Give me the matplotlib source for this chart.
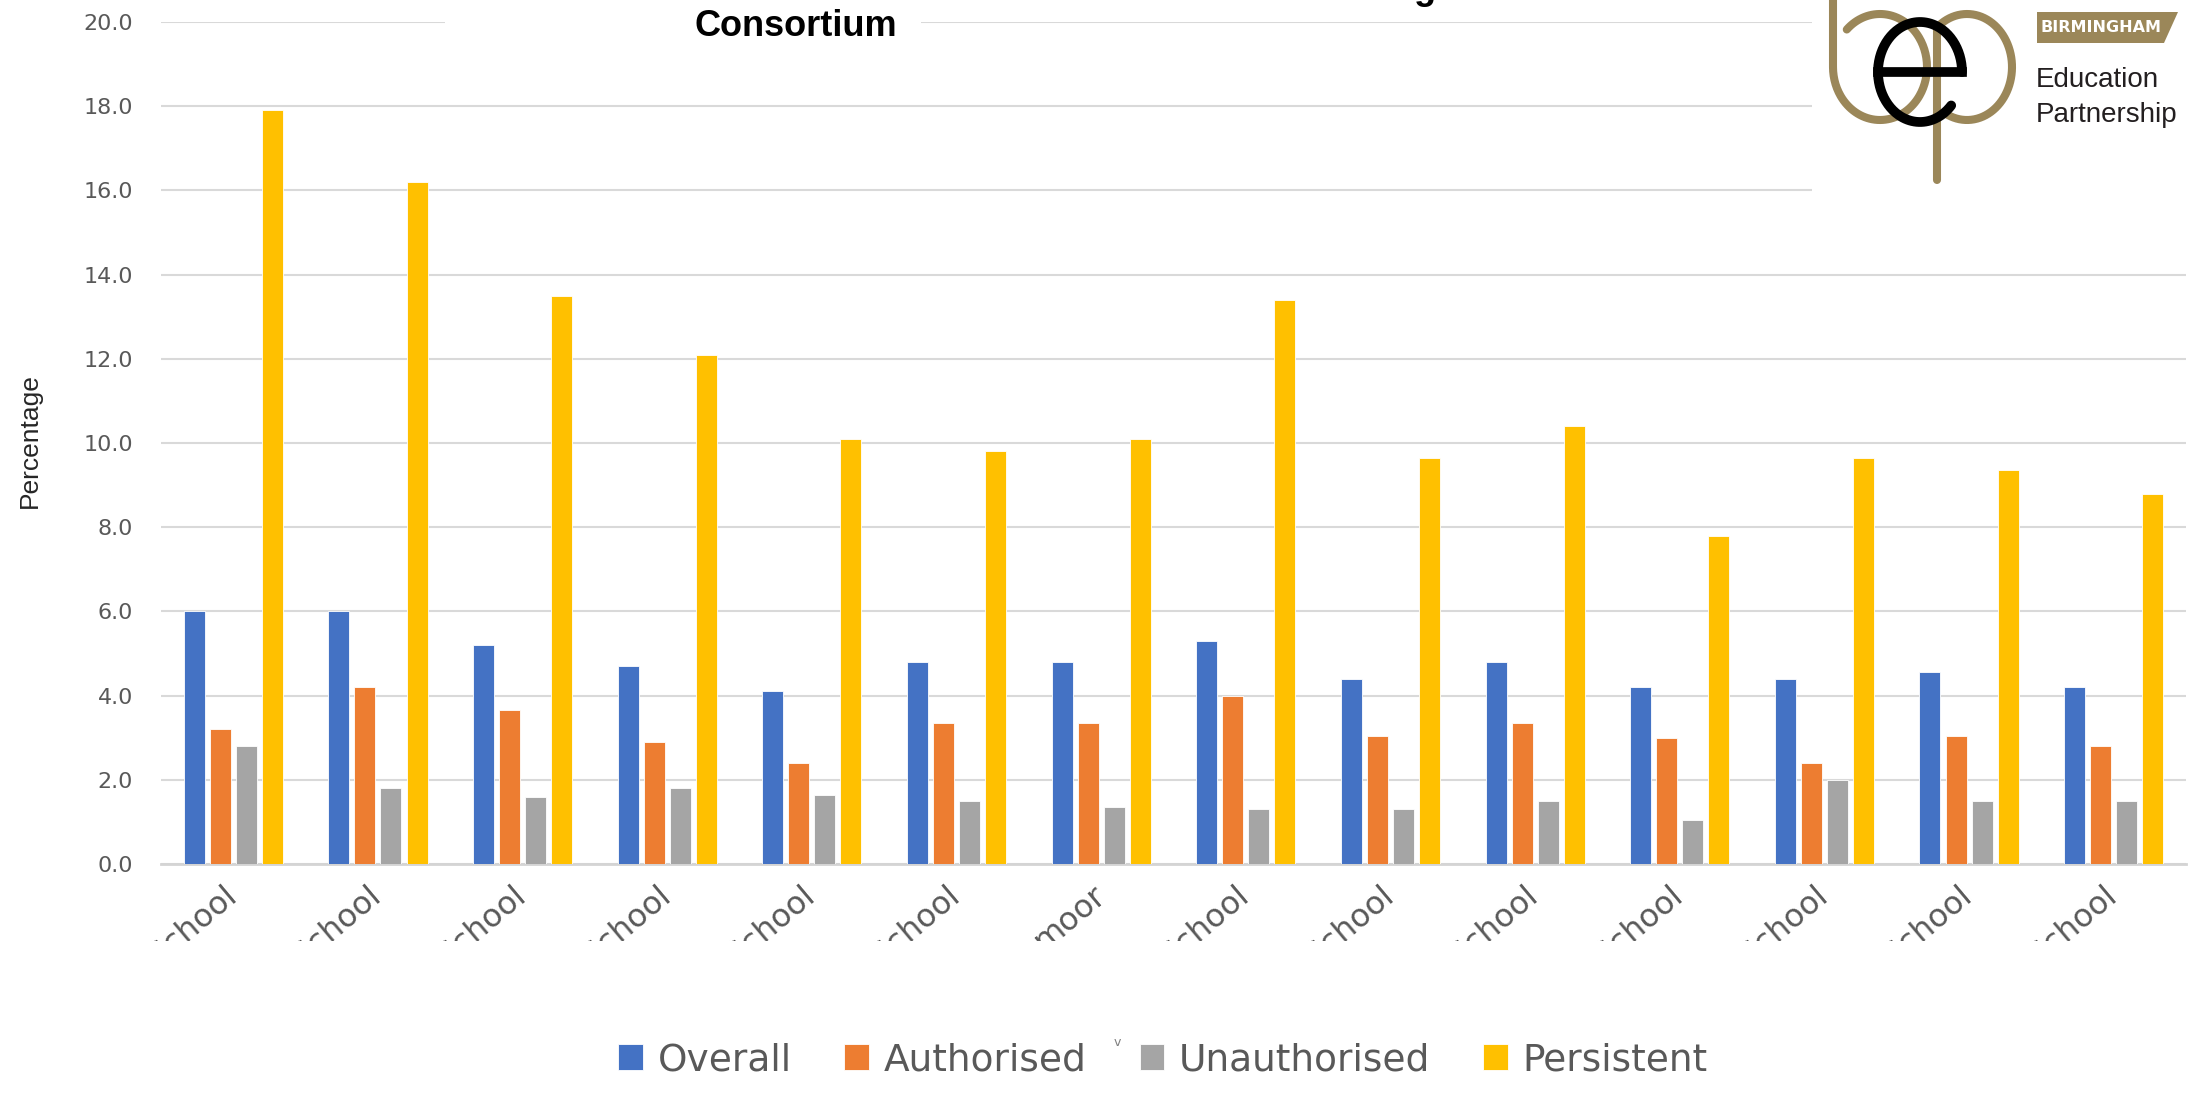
import numpy as np
import matplotlib
matplotlib.use("Agg")
import matplotlib.pyplot as plt
from matplotlib.patches import Rectangle, Polygon
from matplotlib.transforms import Bbox

# ---- data -------------------------------------------------------------
schools = ["School", "School", "School", "School", "School", "School", "moor",
           "School", "School", "School", "School", "School", "School", "School"]
overall = [6.0, 6.0, 5.2, 4.7, 4.1, 4.8, 4.8, 5.3, 4.4, 4.8, 4.2, 4.4, 4.55, 4.2]
authorised = [3.2, 4.2, 3.65, 2.9, 2.4, 3.35, 3.35, 4.0, 3.05, 3.35, 3.0, 2.4, 3.05, 2.8]
unauthorised = [2.8, 1.8, 1.6, 1.8, 1.65, 1.5, 1.35, 1.3, 1.3, 1.5, 1.05, 2.0, 1.5, 1.5]
persistent = [17.9, 16.2, 13.5, 12.1, 10.1, 9.8, 10.1, 13.4, 9.65, 10.4, 7.8, 9.65, 9.35, 8.8]

series_names = ["Overall", "Authorised", "Unauthorised", "Persistent"]
series_values = [overall, authorised, unauthorised, persistent]
series_colors = ["#4472c4", "#ed7d31", "#a5a5a5", "#ffc000"]
y_ticks = [0, 2, 4, 6, 8, 10, 12, 14, 16, 18, 20]

W, H = 2188, 1093
fig = plt.figure(figsize=(W / 100, H / 100), dpi=100)
fig.patch.set_facecolor("white")

ax = fig.add_axes([161 / W, 229 / H, (2186 - 161) / W, (864 - 22) / H])
x = np.arange(len(schools))
step, width = 0.18, 0.145
handles = []
for i, (vals, col) in enumerate(zip(series_values, series_colors)):
    b = ax.bar(x + (i - 1.5) * step, vals, width, color=col,
               edgecolor="white", linewidth=0.6, zorder=3)
    handles.append(b)

ax.set_xlim(-0.5, len(schools) - 0.5)
ax.set_ylim(0, 20)
ax.set_yticks(y_ticks)
ax.set_yticklabels([f"{v:.1f}" for v in y_ticks])
ax.yaxis.grid(True, color="#d9d9d9", linewidth=1.5, zorder=0)
ax.set_axisbelow(True)
for s in ["top", "right", "left"]:
    ax.spines[s].set_visible(False)
ax.spines["bottom"].set_color("#d4d4d4")
ax.spines["bottom"].set_linewidth(2)
ax.tick_params(axis="y", length=0, pad=20, labelsize=16, labelcolor="#595959")
ax.tick_params(axis="x", length=0, pad=20, labelsize=23, labelcolor="#595959")
ax.set_xticks(x)
ax.set_xticklabels(schools, rotation=40, ha="right", va="center",
                   rotation_mode="anchor")
# category labels are cut off along a horizontal line below the axis
clip = Bbox.from_extents(0, H - 941, W, H)
for lbl in ax.get_xticklabels():
    lbl.set_clip_box(clip)
    lbl.set_clip_on(True)

fig.text(30 / W, 1 - 441 / H, "Percentage", rotation=90, ha="center",
         va="center", fontsize=19, family="Liberation Sans", color="#262626")

# ---- overlay in pixel coordinates: title and logo ---------------------
ov = fig.add_axes([0, 0, 1, 1], zorder=5)
ov.set_xlim(0, W)
ov.set_ylim(H, 0)
ov.axis("off")

ov.add_patch(Rectangle((445, 8), 921 - 445, 34, facecolor="white", edgecolor="none"))
ov.text(796, 27, "Consortium", ha="center", va="center", fontsize=26,
        fontweight="bold", family="Liberation Sans", color="black")
ov.text(1425, -1, "g", ha="center", va="baseline", fontsize=26,
        fontweight="bold", family="Liberation Sans", color="black")

# logo area
ov.add_patch(Rectangle((1812, 0), W - 1812, 235, facecolor="white", edgecolor="none"))
gold = "#9b8759"


def arc(cx, cy, rx, ry, t0, t1):
    t = np.radians(np.linspace(t0, t1, 200))
    return cx + rx * np.cos(t), cy - ry * np.sin(t)


# b
ov.plot([1833, 1833], [-5, 67], color=gold, lw=5.8, solid_capstyle="round")
bx, by = arc(1880, 67, 47, 53, 180, 495)
ov.plot(bx, by, color=gold, lw=5.8, solid_capstyle="round")
# p
px_, py_ = arc(1967, 67, 45, 53, 132, -120)
ov.plot(px_, py_, color=gold, lw=5.8, solid_capstyle="round")
ov.plot([1937, 1937], [28, 180], color=gold, lw=5.8, solid_capstyle="round")
# e
ex, ey = arc(1920, 72, 42, 50, 0, 318)
ov.plot(ex, ey, color="black", lw=7, solid_capstyle="round")
ov.plot([1878, 1962], [72, 72], color="black", lw=7)

ov.add_patch(Polygon([(2037, 12), (2178, 12), (2164, 43), (2037, 43)],
                     closed=True, facecolor=gold, edgecolor="none"))
ov.text(2101, 28, "BIRMINGHAM", ha="center", va="center", fontsize=11.5,
        fontweight="bold", color="white")
ov.text(2036, 87, "Education", ha="left", va="baseline", fontsize=20,
        family="Liberation Sans", color="#231f20")
ov.text(2036, 122, "Partnership", ha="left", va="baseline", fontsize=20,
        family="Liberation Sans", color="#231f20")

ov.text(1117, 1043, "v", ha="center", va="center", fontsize=9, color="#7f7f7f")

leg = fig.legend(handles, series_names, ncol=4, loc="lower center",
                 bbox_to_anchor=(1163 / W, -4 / H), frameon=False,
                 fontsize=27, labelcolor="#595959", handlelength=0.66,
                 handleheight=0.7, handletextpad=0.4, columnspacing=1.4,
                 borderpad=0)

fig.savefig("out.png", dpi=100, facecolor="white")
